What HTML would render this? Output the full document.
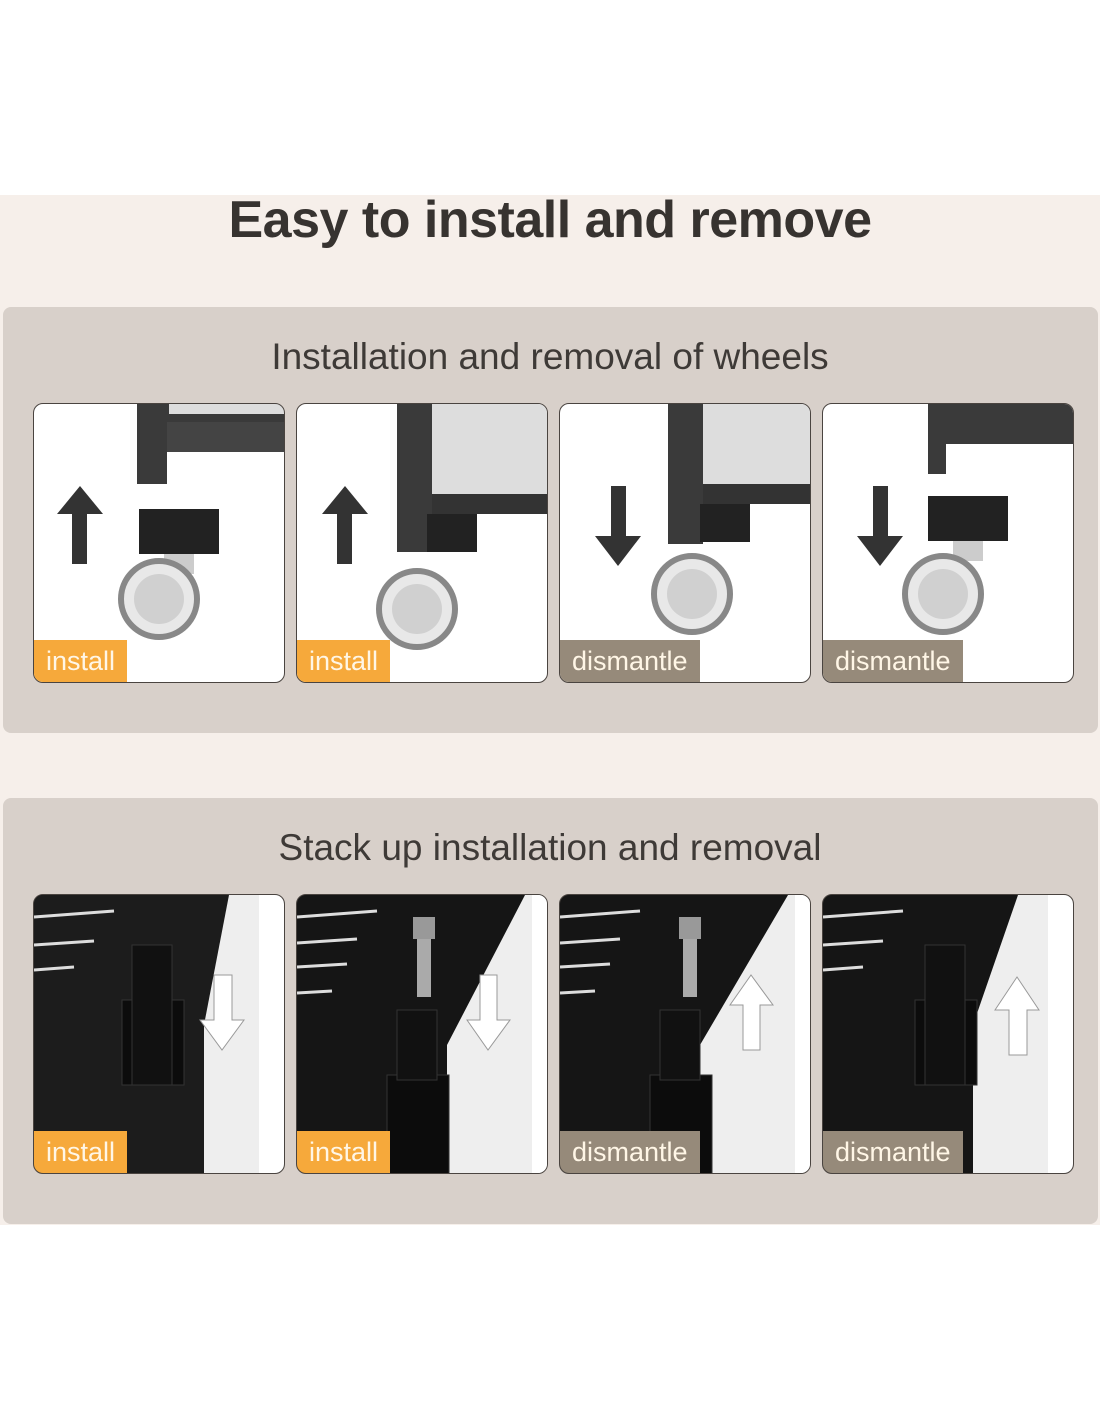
<!DOCTYPE html>
<html><head><style>
*{margin:0;padding:0;box-sizing:border-box}
body{width:1100px;height:1422px;background:#fff;position:relative;font-family:"Liberation Sans",sans-serif;overflow:hidden}
.bg{position:absolute;left:0;top:195px;width:1100px;height:1030px;background:#f6efea}
h1{position:absolute;top:190px;left:0;width:1100px;text-align:center;font-size:52px;font-weight:bold;color:#373330;letter-spacing:-0.5px}
.panel{position:absolute;left:3px;width:1095px;background:#d8d0ca;border-radius:8px}
.sub{position:absolute;left:0;width:1100px;text-align:center;font-size:37px;color:#3e3a37}
.card{position:absolute;width:252px;height:280px;border:1.5px solid #4a4440;border-radius:10px;overflow:hidden;background:#fff}
.card svg{position:absolute;left:0;top:0}
.lab{position:absolute;left:0;bottom:0;height:42px;color:#fff6e6;font-size:27px;line-height:42px;padding:0 12px}
.or{background:#f6a93b}.gr{background:#968a7a}
</style></head><body>
<div class="bg"></div>
<h1>Easy to install and remove</h1>
<div class="panel" style="top:307px;height:426px"></div>
<div class="sub" style="top:336px">Installation and removal of wheels</div>
<div class="panel" style="top:798px;height:426px"></div>
<div class="sub" style="top:827px">Stack up installation and removal</div>

<div class="card" style="left:33px;top:403px"><svg width="252" height="280">
<rect x="103" y="0" width="150" height="18" fill="#3a3a3a"/><rect x="135" y="0" width="117" height="10" fill="#ddd"/><rect x="103" y="0" width="30" height="80" fill="#3a3a3a"/><rect x="133" y="18" width="120" height="30" fill="#444"/>
<path d="M23 110 L46 82 L69 110Z" fill="#333"/><rect x="38" y="105" width="15" height="55" fill="#333"/>
<rect x="105" y="105" width="80" height="45" fill="#222"/><rect x="130" y="150" width="30" height="20" fill="#ccc"/>
<circle cx="125" cy="195" r="38" fill="#e8e8e8" stroke="#888" stroke-width="6"/><circle cx="125" cy="195" r="25" fill="#d0d0d0"/></svg><div class="lab or">install</div></div>
<div class="card" style="left:296px;top:403px"><svg width="252" height="280">
<rect x="100" y="0" width="35" height="148" fill="#3a3a3a"/><rect x="135" y="0" width="117" height="90" fill="#ddd"/><rect x="135" y="90" width="117" height="20" fill="#333"/><rect x="130" y="110" width="50" height="38" fill="#222"/>
<path d="M25 110 L48 82 L71 110Z" fill="#333"/><rect x="40" y="105" width="15" height="55" fill="#333"/>
<circle cx="120" cy="205" r="38" fill="#e8e8e8" stroke="#888" stroke-width="6"/><circle cx="120" cy="205" r="25" fill="#d0d0d0"/></svg><div class="lab or">install</div></div>
<div class="card" style="left:559px;top:403px"><svg width="252" height="280">
<rect x="108" y="0" width="35" height="140" fill="#3a3a3a"/><rect x="143" y="0" width="109" height="80" fill="#ddd"/><rect x="143" y="80" width="109" height="20" fill="#333"/><rect x="140" y="100" width="50" height="38" fill="#222"/>
<rect x="51" y="82" width="15" height="55" fill="#333"/><path d="M35 132 L58 162 L81 132Z" fill="#333"/>
<circle cx="132" cy="190" r="38" fill="#e8e8e8" stroke="#888" stroke-width="6"/><circle cx="132" cy="190" r="25" fill="#d0d0d0"/></svg><div class="lab gr">dismantle</div></div>
<div class="card" style="left:822px;top:403px"><svg width="252" height="280">
<rect x="105" y="0" width="147" height="40" fill="#3a3a3a"/><rect x="105" y="0" width="18" height="70" fill="#3a3a3a"/>
<rect x="50" y="82" width="15" height="55" fill="#333"/><path d="M34 132 L57 162 L80 132Z" fill="#333"/>
<rect x="105" y="92" width="80" height="45" fill="#222"/><rect x="130" y="137" width="30" height="20" fill="#ccc"/>
<circle cx="120" cy="190" r="38" fill="#e8e8e8" stroke="#888" stroke-width="6"/><circle cx="120" cy="190" r="25" fill="#d0d0d0"/></svg><div class="lab gr">dismantle</div></div>

<div class="card" style="left:33px;top:894px;background:#151515"><svg width="252" height="280">
<path d="M0 0 H200 V280 H0Z" fill="#1c1c1c"/><g stroke="#ddd" stroke-width="3"><line x1="0" y1="22" x2="80" y2="16"/><line x1="0" y1="50" x2="60" y2="46"/><line x1="0" y1="75" x2="40" y2="72"/></g>
<path d="M195 0 L225 0 L225 280 L170 280 L170 130 Z" fill="#eee"/><rect x="225" y="0" width="27" height="280" fill="#fff"/>
<rect x="88" y="105" width="62" height="85" fill="#0c0c0c" stroke="#333"/><rect x="98" y="50" width="40" height="140" fill="#111" stroke="#333"/>
<path d="M180 80 H198 V125 H210 L188 155 L166 125 H180Z" fill="#fff" stroke="#999"/></svg><div class="lab or">install</div></div>
<div class="card" style="left:296px;top:894px;background:#151515"><svg width="252" height="280">
<g stroke="#ddd" stroke-width="3"><line x1="0" y1="22" x2="80" y2="16"/><line x1="0" y1="48" x2="60" y2="44"/><line x1="0" y1="72" x2="50" y2="69"/><line x1="0" y1="98" x2="35" y2="96"/></g>
<path d="M228 0 L252 0 L252 280 L150 280 L150 150 Z" fill="#eee"/><rect x="235" y="0" width="17" height="280" fill="#fff"/>
<rect x="90" y="180" width="62" height="100" fill="#0c0c0c" stroke="#333"/><rect x="100" y="115" width="40" height="70" fill="#111" stroke="#333"/>
<rect x="120" y="22" width="14" height="80" fill="#aaa"/><rect x="116" y="22" width="22" height="22" fill="#999"/>
<path d="M183 80 H200 V125 H213 L191 155 L170 125 H183Z" fill="#fff" stroke="#999"/></svg><div class="lab or">install</div></div>
<div class="card" style="left:559px;top:894px;background:#151515"><svg width="252" height="280">
<g stroke="#ddd" stroke-width="3"><line x1="0" y1="22" x2="80" y2="16"/><line x1="0" y1="48" x2="60" y2="44"/><line x1="0" y1="72" x2="50" y2="69"/><line x1="0" y1="98" x2="35" y2="96"/></g>
<path d="M228 0 L252 0 L252 280 L140 280 L140 150 Z" fill="#eee"/><rect x="235" y="0" width="17" height="280" fill="#fff"/>
<rect x="90" y="180" width="62" height="100" fill="#0c0c0c" stroke="#333"/><rect x="100" y="115" width="40" height="70" fill="#111" stroke="#333"/>
<rect x="123" y="22" width="14" height="80" fill="#aaa"/><rect x="119" y="22" width="22" height="22" fill="#999"/>
<path d="M183 155 H200 V110 H213 L191 80 L170 110 H183Z" fill="#fff" stroke="#999"/></svg><div class="lab gr">dismantle</div></div>
<div class="card" style="left:822px;top:894px;background:#151515"><svg width="252" height="280">
<g stroke="#ddd" stroke-width="3"><line x1="0" y1="22" x2="80" y2="16"/><line x1="0" y1="50" x2="60" y2="46"/><line x1="0" y1="75" x2="40" y2="72"/></g>
<path d="M195 0 L225 0 L225 280 L150 280 L150 130 Z" fill="#eee"/><rect x="225" y="0" width="27" height="280" fill="#fff"/>
<rect x="92" y="105" width="62" height="85" fill="#0c0c0c" stroke="#333"/><rect x="102" y="50" width="40" height="140" fill="#111" stroke="#333"/>
<path d="M186 160 H204 V115 H216 L194 82 L172 115 H186Z" fill="#fff" stroke="#999"/></svg><div class="lab gr">dismantle</div></div>
</body></html>
